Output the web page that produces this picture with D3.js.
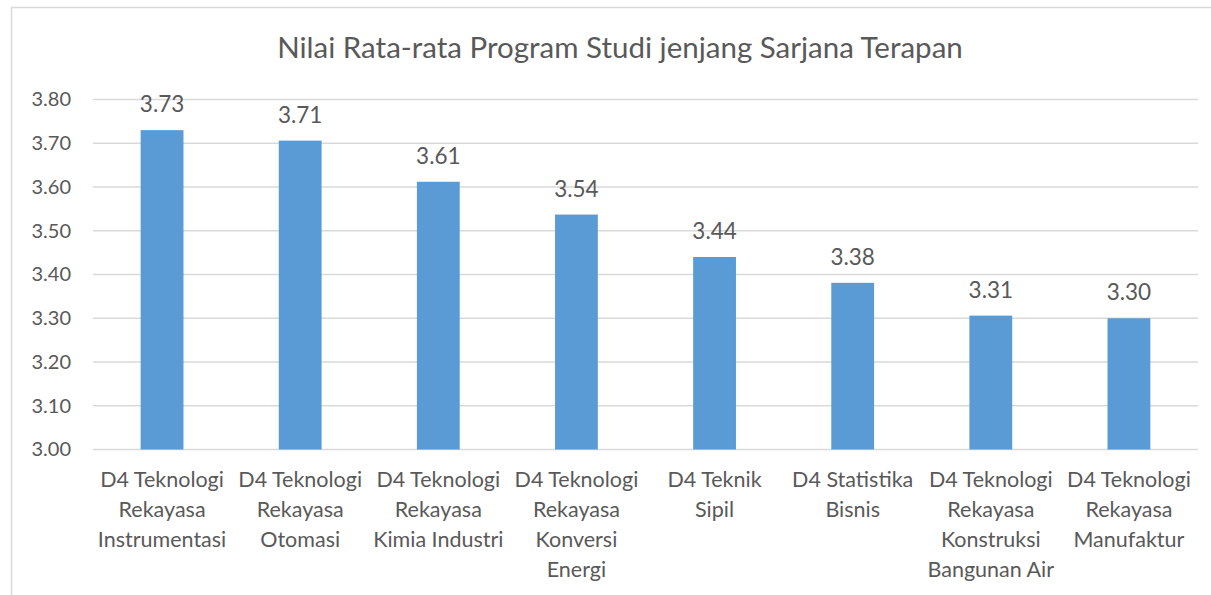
<!DOCTYPE html>
<html>
<head>
<meta charset="utf-8">
<script src="https://cdn.jsdelivr.net/npm/d3@7"></script>
<style>
  body { margin: 0; background: #fff; }
  text { font-family: Lato, "Open Sans", sans-serif; fill: #595959; }
</style>
</head>
<body>
<script>
// data
const title = "Nilai Rata-rata Program Studi jenjang Sarjana Terapan";
const categories = [
  ["D4 Teknologi", "Rekayasa", "Instrumentasi"],
  ["D4 Teknologi", "Rekayasa", "Otomasi"],
  ["D4 Teknologi", "Rekayasa", "Kimia Industri"],
  ["D4 Teknologi", "Rekayasa", "Konversi", "Energi"],
  ["D4 Teknik", "Sipil"],
  ["D4 Statistika", "Bisnis"],
  ["D4 Teknologi", "Rekayasa", "Konstruksi", "Bangunan Air"],
  ["D4 Teknologi", "Rekayasa", "Manufaktur"]
];
const values = [3.73, 3.706, 3.612, 3.537, 3.44, 3.381, 3.306, 3.30];
const yTicks = [3.0, 3.1, 3.2, 3.3, 3.4, 3.5, 3.6, 3.7, 3.8];

const w = 1211;
const h = 595;

const svg = d3.select("body")
  .append("svg")
  .attr("width", w)
  .attr("height", h);

// chart border
svg.append("rect")
  .attr("x", 11.5)
  .attr("y", 7.5)
  .attr("width", 1230)
  .attr("height", 620)
  .attr("fill", "#fff")
  .attr("stroke", "#d9d9d9")
  .attr("stroke-width", 1.5);

const xScale = d3.scaleBand()
  .domain(d3.range(categories.length))
  .range([93, 1198])
  .paddingInner(0.69)
  .paddingOuter(0.345);

const yScale = d3.scaleLinear()
  .domain([3.0, 3.8])
  .range([449.5, 99.5]);

// gridlines
svg.append("g")
  .selectAll("line")
  .data(yTicks)
  .enter()
  .append("line")
  .attr("x1", 93)
  .attr("x2", 1198)
  .attr("y1", d => yScale(d))
  .attr("y2", d => yScale(d))
  .attr("stroke", "#d9d9d9")
  .attr("stroke-width", 1.5);

// y axis labels
const yAxis = d3.axisLeft(yScale)
  .tickValues(yTicks)
  .tickFormat(d3.format(".2f"))
  .tickSize(0)
  .tickPadding(22);

svg.append("g")
  .attr("transform", "translate(93,0)")
  .call(yAxis)
  .call(g => g.select(".domain").remove())
  .call(g => g.selectAll("text")
    .style("font-size", "20px")
    .attr("fill", "#595959"));

// bars
svg.selectAll("rect.bar")
  .data(values)
  .enter()
  .append("rect")
  .attr("class", "bar")
  .attr("x", (d, i) => xScale(i))
  .attr("y", d => yScale(d))
  .attr("width", xScale.bandwidth())
  .attr("height", d => yScale(3.0) - yScale(d))
  .attr("fill", "#5b9bd5");

// value labels
svg.selectAll("text.val")
  .data(values)
  .enter()
  .append("text")
  .attr("class", "val")
  .attr("x", (d, i) => xScale(i) + xScale.bandwidth() / 2)
  .attr("y", d => yScale(d) - 18)
  .attr("text-anchor", "middle")
  .style("font-size", "22.5px")
  .text(d => d.toFixed(2));

// category labels
const cat = svg.selectAll("text.cat")
  .data(categories)
  .enter()
  .append("text")
  .attr("class", "cat")
  .attr("text-anchor", "middle")
  .style("font-size", "21.5px");

cat.selectAll("tspan")
  .data(d => d)
  .enter()
  .append("tspan")
  .attr("x", function() {
    const i = categories.indexOf(d3.select(this.parentNode).datum());
    return xScale(i) + xScale.bandwidth() / 2;
  })
  .attr("y", (d, j) => 487 + j * 30)
  .text(d => d);

// title
svg.append("text")
  .attr("x", 620)
  .attr("y", 58)
  .attr("text-anchor", "middle")
  .style("font-size", "29.5px")
  .text(title);
</script>
</body>
</html>
